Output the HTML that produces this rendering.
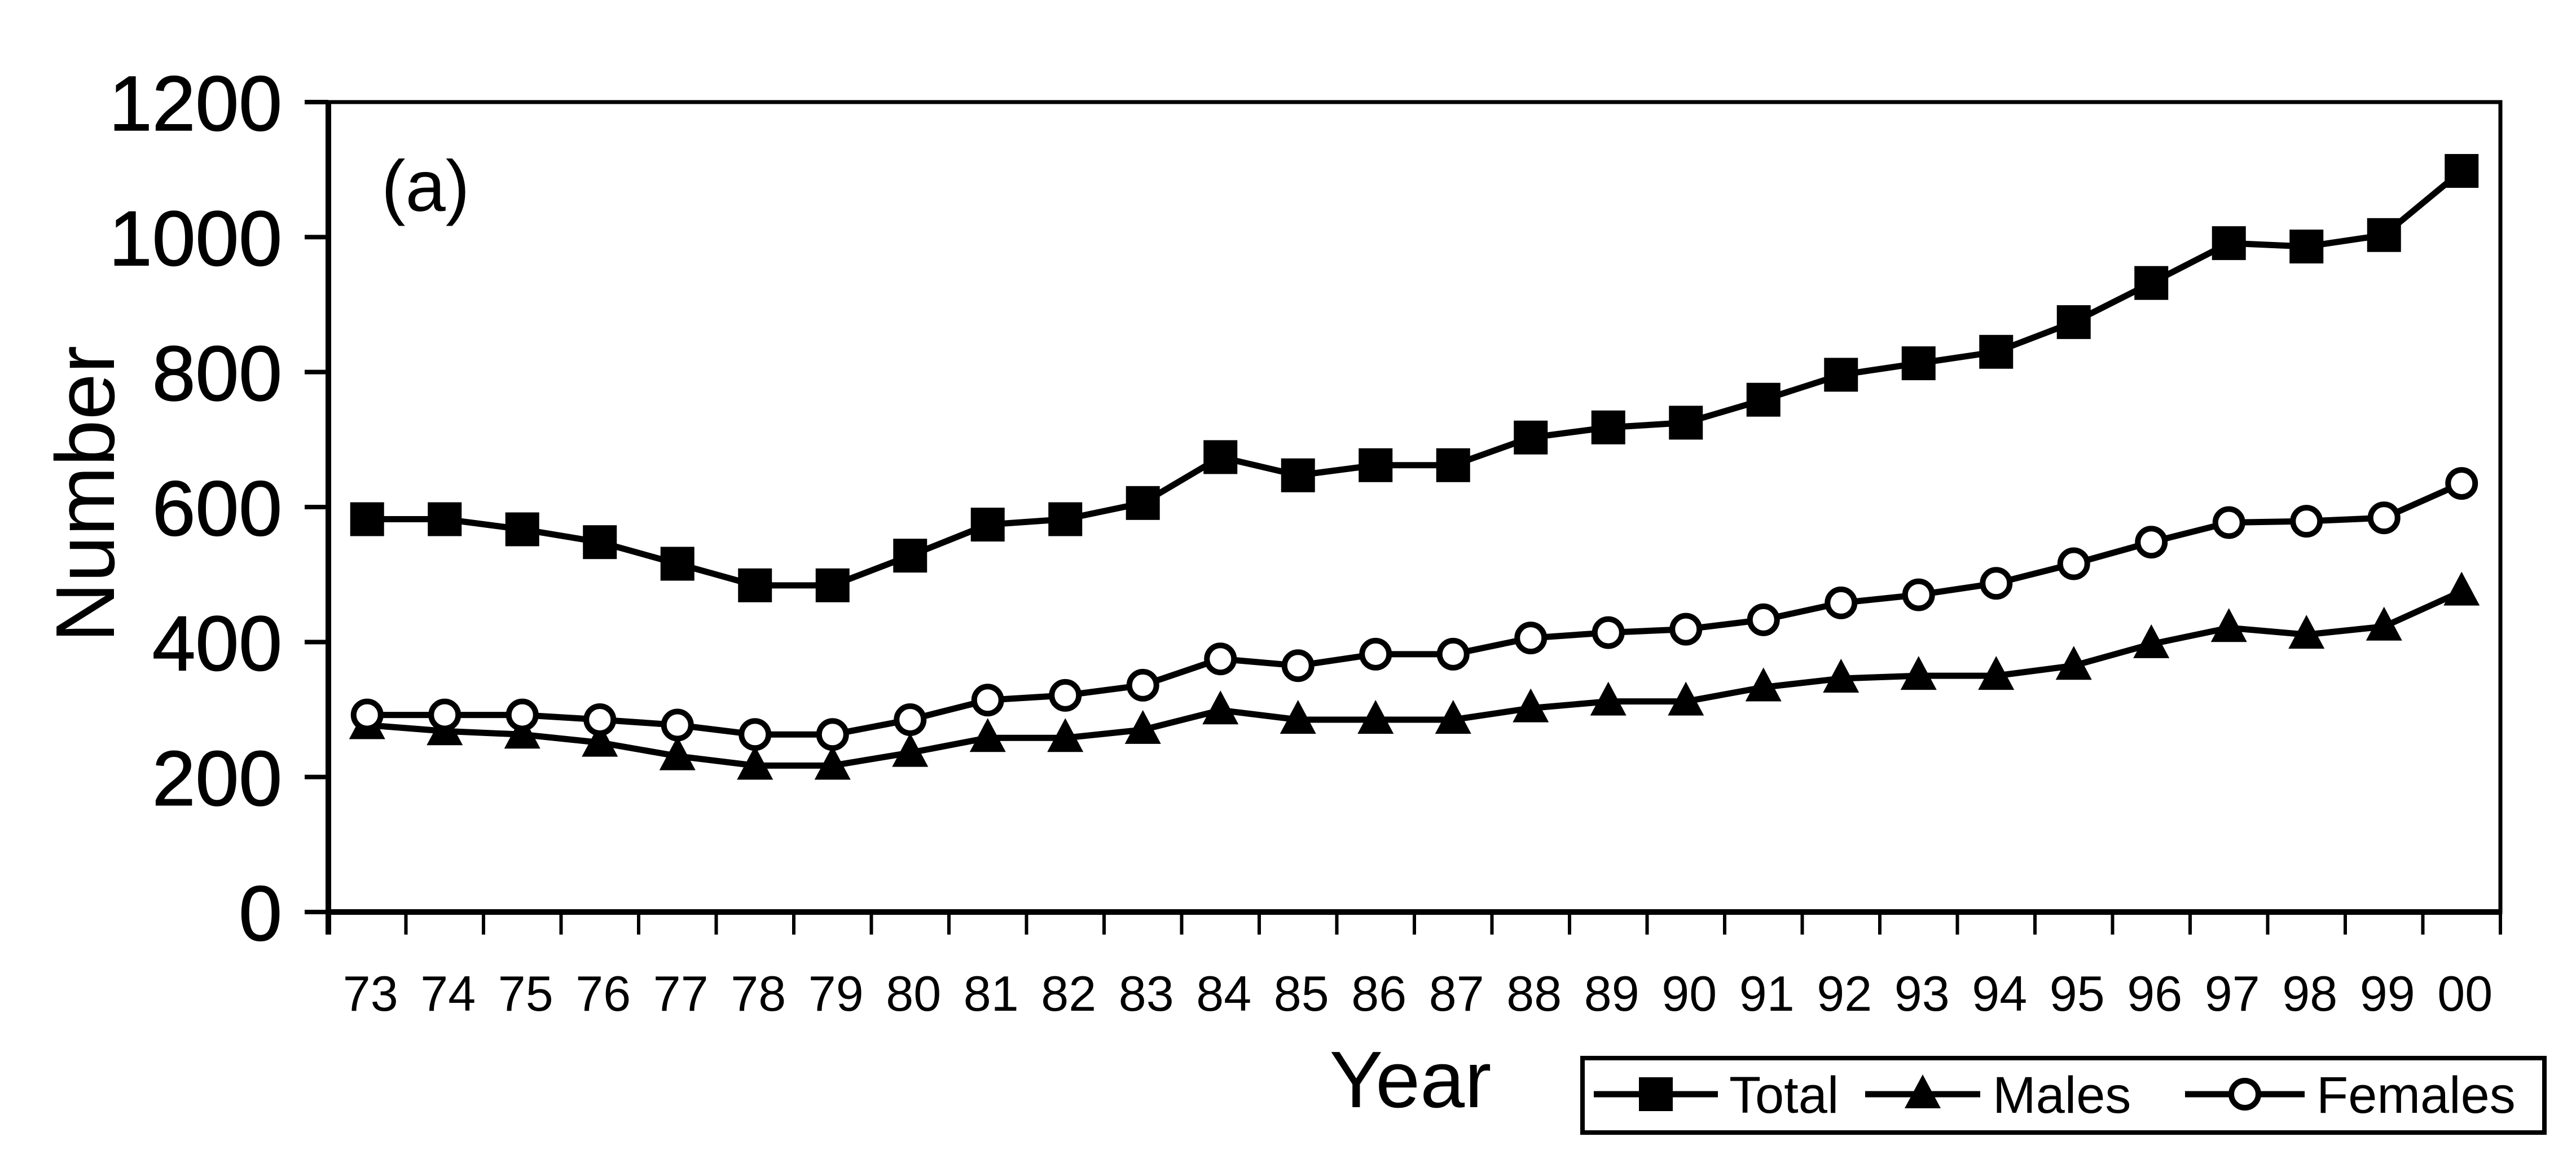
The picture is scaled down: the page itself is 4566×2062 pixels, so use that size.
<!DOCTYPE html>
<html><head><meta charset="utf-8"><style>
html,body{margin:0;padding:0;background:#fff;}
svg{display:block;font-family:"Liberation Sans",Arial,sans-serif;}
</style></head><body>
<svg id="chart" width="4566" height="2062" viewBox="0 0 4566 2062" xmlns="http://www.w3.org/2000/svg">
<rect x="0" y="0" width="4566" height="2062" fill="#fff"/>
<g id="axes"></g>
<g id="marks"></g>
<text x="676" y="374" font-size="128">(a)</text>
<text transform="translate(202,876) rotate(-90)" text-anchor="middle" font-size="148">Number</text>
<text x="2500" y="1963" text-anchor="middle" font-size="142">Year</text>
<g id="legend">
<rect x="2805" y="1876" width="1705" height="132" fill="#fff" stroke="#000" stroke-width="8"/>
</g>
</svg>
<script>
const categories=["73","74","75","76","77","78","79","80","81","82","83","84","85","86","87","88","89","90","91","92","93","94","95","96","97","98","99","00"];
const totalValues=[582,582,567,548,516,484,484,528,574,582,606,674,647,662,662,703,718,725,759,796,813,830,874,932,991,986,1003,1098];
const maleValues=[277,268,263,251,231,217,217,236,258,258,270,299,285,285,285,302,312,312,333,346,350,350,365,397,421,411,423,475];
const femaleValues=[292,292,292,285,277,263,263,285,314,321,336,375,365,382,382,406,414,419,433,458,470,487,516,548,577,579,584,635];
const yTicks=[0,200,400,600,800,1000,1200];
const legendLabels=["Total","Males","Females"];

const NS="http://www.w3.org/2000/svg";
const L=582,R=4432,T=181,B=1617,YMAX=1200;
const bw=(R-L)/categories.length;
function xPos(i){return L+bw*(i+0.5);}
function yPos(v){return B-(v/YMAX)*(B-T);}
function mk(tag,attrs,parent){const e=document.createElementNS(NS,tag);for(const k in attrs)e.setAttribute(k,attrs[k]);parent.appendChild(e);return e;}
const axes=document.getElementById('axes');
const marks=document.getElementById('marks');

let fr=mk('rect',{x:L,y:T,width:R-L,height:B-T,fill:'none',stroke:'#000','stroke-width':7},axes);


let xa=mk('line',{x1:L,y1:B,x2:R,y2:B,stroke:'#000','stroke-width':10},axes);


let ya=mk('line',{x1:L,y1:T,x2:L,y2:B+40,stroke:'#000','stroke-width':10},axes);



yTicks.forEach(v=>{
  const y=yPos(v);
  let t=mk('line',{x1:540,y1:y,x2:L,y2:y,stroke:'#000','stroke-width':8},axes);
  
  
  let tx=mk('text',{x:500,y:y+50,'text-anchor':'end','font-size':138,'stroke':'#000','stroke-width':1.5},axes);
  tx.textContent=String(v);
  
  
});
for(let i=0;i<=categories.length;i++){
  const x=L+bw*i;
  let t=mk('line',{x1:x,y1:B,x2:x,y2:B+40,stroke:'#000','stroke-width':6},axes);
  
  
}
categories.forEach((c,i)=>{
  let tx=mk('text',{x:xPos(i)+6,y:1792,'text-anchor':'middle','font-size':88},axes);
  tx.textContent=c;
  
  
});

function marker(type,x,y,parent,s){
  let m;
  if(type==='square'){m=mk('rect',{x:x-30*s,y:y-30*s,width:60*s,height:60*s,fill:'#000'},parent);}
  else if(type==='triangle'){m=mk('polygon',{points:`${x},${y-35*s} ${x-32*s},${y+25*s} ${x+32*s},${y+25*s}`,fill:'#000'},parent);}
  else {m=mk('circle',{cx:x,cy:y,r:24*s,fill:'#fff',stroke:'#000','stroke-width':10},parent);}
  return m;
}
const series=[
  {name:'total',vals:totalValues,type:'square'},
  {name:'males',vals:maleValues,type:'triangle'},
  {name:'females',vals:femaleValues,type:'circle'}
];
series.forEach(s=>{
  const g=mk('g',{},marks);
  
  
  const pts=s.vals.map((v,i)=>xPos(i)+','+yPos(v)).join(' ');
  let pl=mk('polyline',{points:pts,fill:'none',stroke:'#000','stroke-width':11},g);
  
  
  s.vals.forEach((v,i)=>{
    const m=marker(s.type,xPos(i),yPos(v),g,1);
    
    
  });
});

const lg=document.getElementById('legend');
const legX=[[2825,3045,3065],[3306,3510,3532],[3873,4085,4106]];
legendLabels.forEach((lab,i)=>{
  const g=mk('g',{},lg);
  
  
  const [x1,x2,tx]=legX[i];const y=1940;
  mk('line',{x1:x1,y1:y,x2:x2,y2:y,stroke:'#000','stroke-width':11},g);
  marker(series[i].type,(x1+x2)/2,y,g,1);
  let t=mk('text',{x:tx,y:y+33,'font-size':92},g);
  t.textContent=lab;
  
  
});
</script>
</body></html>
